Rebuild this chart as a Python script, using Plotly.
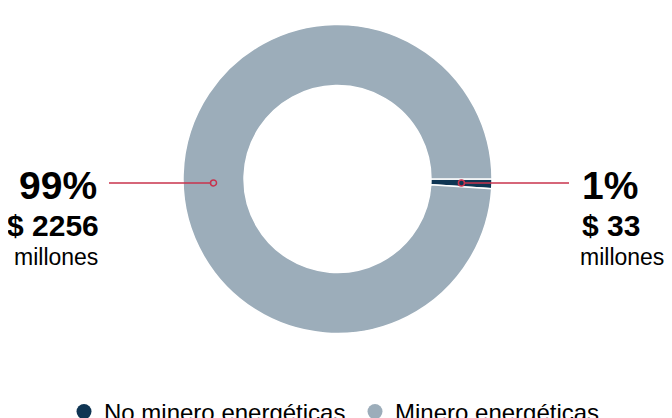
import math
import plotly.graph_objects as go

# ---- data ----
categories = ["No minero energéticas", "Minero energéticas"]
pct_values = [1, 99]
amounts = [33, 2256]
colors = ["#0f3553", "#9cadba"]
line_color = "#c8334d"

W, H = 672, 418
OFF = 8  # page body margin: screen position = figure position + 8
FONT = "Liberation Sans, Arial, Helvetica, sans-serif"

# pie geometry (screen pixels)
cx, cy, r_out = 337.5, 179.0, 154.5
hole = 0.605
r_mid = r_out * (1 + hole) / 2


def px(x):
    return (x - OFF) / W


def py(y):
    return 1 - (y - OFF) / H


fig = go.Figure()
fig.add_trace(go.Pie(
    labels=categories,
    values=pct_values,
    hole=hole,
    sort=False,
    direction="clockwise",
    rotation=90,
    textinfo="none",
    hoverinfo="label+percent",
    showlegend=False,
    marker=dict(colors=colors, line=dict(color="white", width=1.5)),
    domain=dict(x=[px(cx - r_out), px(cx + r_out)], y=[py(cy + r_out), py(cy - r_out)]),
))

# legend entries with round symbols
for name, col in zip(categories, colors):
    fig.add_trace(go.Scatter(
        x=[None], y=[None], mode="markers", name=name,
        marker=dict(symbol="circle", size=15, color=col),
        showlegend=True, hoverinfo="skip",
    ))

# leader points: middle of the small slice
total = sum(pct_values)
mid_ang = math.radians(360 * pct_values[0] / total / 2)
yl = cy + r_mid * math.sin(mid_ang)
x_right = cx + r_mid * math.cos(mid_ang)
x_left = cx - r_mid

shapes = []
annotations = []
mr = 3
lw = 1.5
shapes.append(dict(type="line", xref="paper", yref="paper", x0=px(109), x1=px(x_left - mr), y0=py(yl), y1=py(yl),
                   line=dict(color=line_color, width=lw)))
shapes.append(dict(type="circle", xref="paper", yref="paper", x0=px(x_left - mr), x1=px(x_left + mr),
                   y0=py(yl - mr), y1=py(yl + mr), line=dict(color=line_color, width=lw)))
shapes.append(dict(type="line", xref="paper", yref="paper", x0=px(x_right + mr), x1=px(569), y0=py(yl), y1=py(yl),
                   line=dict(color=line_color, width=lw)))
shapes.append(dict(type="circle", xref="paper", yref="paper", x0=px(x_right - mr), x1=px(x_right + mr),
                   y0=py(yl - mr), y1=py(yl + mr), line=dict(color=line_color, width=lw)))


def label_block(xs, pct, amount, anchor):
    items = [
        (xs[0], 185, f"<b>{pct}%</b>", 39),
        (xs[1], 225.5, f"<b>$ {amount}</b>", 30),
        (xs[2], 256.5, "millones", 23),
    ]
    return [dict(x=px(x), y=py(y), text=t, font=dict(size=s, color="black", family=FONT),
                 xref="paper", yref="paper", xanchor=anchor, yanchor="middle", showarrow=False)
            for x, y, t, s in items]


annotations += label_block([99, 101, 100], pct_values[1], amounts[1], "right")
annotations += label_block([580, 580, 578], pct_values[0], amounts[0], "left")

fig.update_layout(
    width=W, height=H,
    margin=dict(l=0, r=0, t=0, b=0, autoexpand=False),
    paper_bgcolor="white",
    plot_bgcolor="white",
    font=dict(family=FONT, color="black"),
    xaxis=dict(visible=False),
    yaxis=dict(visible=False),
    shapes=shapes,
    annotations=annotations,
    showlegend=True,
    legend=dict(
        orientation="h",
        x=px(64), xanchor="left",
        y=py(412), yanchor="middle",
        font=dict(size=24, color="black", family=FONT),
        entrywidth=246,
        traceorder="normal",
        bgcolor="rgba(0,0,0,0)",
    ),
)

fig.write_html("out.html")
